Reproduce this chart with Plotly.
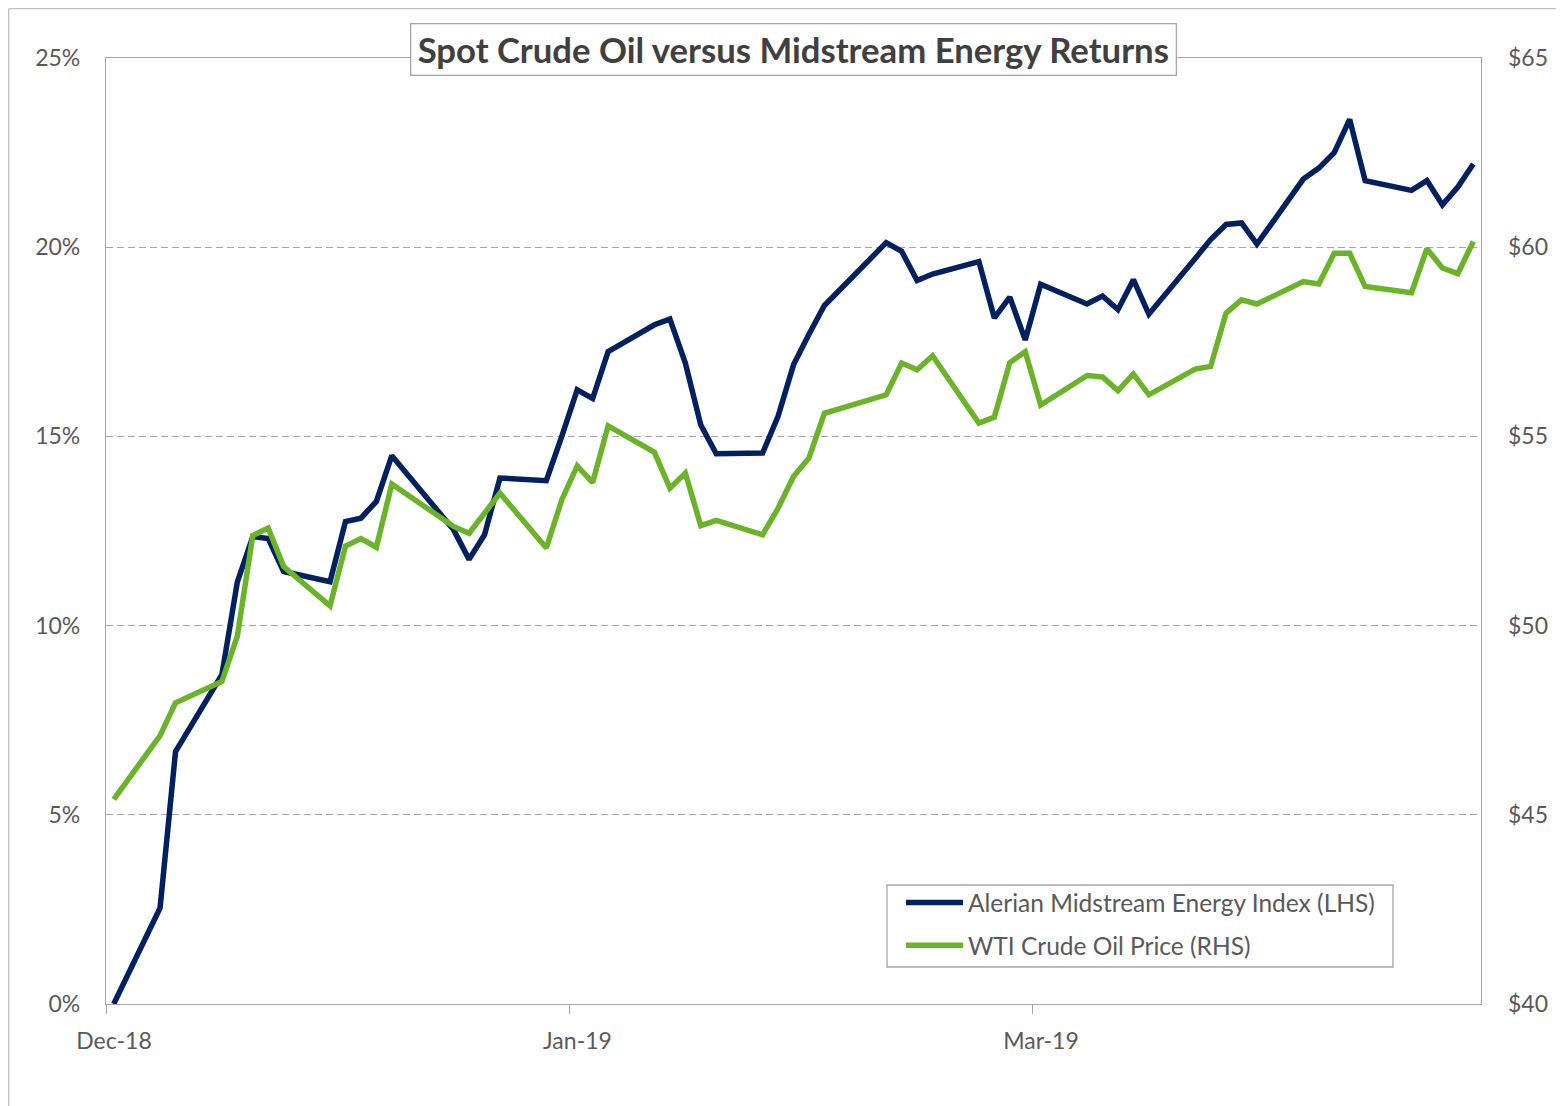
import plotly.graph_objects as go
from plotly.subplots import make_subplots

# ---------------- data ----------------
dates = [
    "2018-12-31", "2019-01-02", "2019-01-03", "2019-01-04", "2019-01-07", "2019-01-08",
    "2019-01-09", "2019-01-10", "2019-01-11", "2019-01-14", "2019-01-15", "2019-01-16",
    "2019-01-17", "2019-01-18", "2019-01-22", "2019-01-23", "2019-01-24", "2019-01-25",
    "2019-01-28", "2019-01-29", "2019-01-30", "2019-01-31", "2019-02-01", "2019-02-04",
    "2019-02-05", "2019-02-06", "2019-02-07", "2019-02-08", "2019-02-11", "2019-02-12",
    "2019-02-13", "2019-02-14", "2019-02-15", "2019-02-19", "2019-02-20", "2019-02-21",
    "2019-02-22", "2019-02-25", "2019-02-26", "2019-02-27", "2019-02-28", "2019-03-01",
    "2019-03-04", "2019-03-05", "2019-03-06", "2019-03-07", "2019-03-08", "2019-03-11",
    "2019-03-12", "2019-03-13", "2019-03-14", "2019-03-15", "2019-03-18", "2019-03-19",
    "2019-03-20", "2019-03-21", "2019-03-22", "2019-03-25", "2019-03-26", "2019-03-27",
    "2019-03-28", "2019-03-29",
]

# Alerian Midstream Energy Index, cumulative return (%)
amz_return_pct = [
    0.0, 1.7, 2.54, 6.67, 8.7, 11.15,
    12.35, 12.3, 11.43, 11.16, 12.75, 12.84,
    13.28, 14.49, 12.53, 11.75, 12.4, 13.9,
    13.83, 15.0, 16.23, 16.0, 17.24, 17.95,
    18.1, 16.94, 15.3, 14.54, 14.56, 15.53,
    16.89, 17.7, 18.46, 20.12, 19.89, 19.12,
    19.29, 19.62, 18.13, 18.68, 17.55, 19.02,
    18.5, 18.71, 18.35, 19.14, 18.23, 19.7,
    20.2, 20.6, 20.64, 20.08, 21.8, 22.09,
    22.5, 23.38, 21.76, 21.5, 21.76, 21.12,
    21.59, 22.2,
]

# WTI crude oil spot price ($/bbl)
wti_price = [
    45.41, 46.52, 47.09, 47.96, 48.52, 49.72,
    52.38, 52.58, 51.56, 50.52, 52.10, 52.30,
    52.07, 53.74, 52.62, 52.44, 52.98, 53.50,
    52.05, 53.32, 54.22, 53.78, 55.28, 54.58,
    53.63, 54.03, 52.64, 52.78, 52.40, 53.10,
    53.94, 54.43, 55.61, 56.10, 56.94, 56.76,
    57.13, 55.35, 55.51, 56.95, 57.24, 55.83,
    56.61, 56.57, 56.21, 56.65, 56.10, 56.78,
    56.85, 58.26, 58.61, 58.50, 59.09, 59.03,
    59.84, 59.84, 58.96, 58.80, 59.96, 59.45,
    59.30, 60.15,
]

x_tick_positions = ["2018-12-30 12:00", "2019-01-29 12:00", "2019-02-28 12:00"]
x_tick_labels = ["Dec-18", "Jan-19", "Mar-19"]
left_ticks = [0, 0.05, 0.10, 0.15, 0.20, 0.25]
right_ticks = [40, 45, 50, 55, 60, 65]
right_tick_labels = ["$" + str(v) for v in right_ticks]

title_text = "Spot Crude Oil versus Midstream Energy Returns"
name_amz = "Alerian Midstream Energy Index (LHS)"
name_wti = "WTI Crude Oil Price (RHS)"

# ---------------- style ----------------
NAVY = "#002060"
GREEN = "#6bb42a"
GRID = "#a6a6a6"
BORDER = "#a6a6a6"
TXT = "#595959"
FONT = "Lato, 'Open Sans', sans-serif"

OFF = 8                      # page body margin
W, H = 1556, 1098
ML, MR, MT, MB = 98, 83, 50, 102
PW, PH = W - ML - MR, H - MT - MB


def px_x(sx):
    """screen x pixel -> paper x"""
    return (sx - OFF - ML) / PW


def px_y(sy):
    """screen y pixel -> paper y"""
    return (H - MB - (sy - OFF)) / PH


fig = make_subplots(specs=[[{"secondary_y": True}]])
fig.add_trace(
    go.Scatter(x=dates, y=[v / 100 for v in amz_return_pct], name=name_amz, mode="lines",
               legendgroup="a", line=dict(color=NAVY, width=5.5)),
    secondary_y=False,
)
fig.add_trace(
    go.Scatter(x=dates, y=wti_price, name=name_wti, mode="lines",
               legendgroup="b", line=dict(color=GREEN, width=5.5)),
    secondary_y=True,
)

fig.update_layout(
    width=W, height=H,
    margin=dict(l=ML, r=MR, t=MT, b=MB, autoexpand=False),
    paper_bgcolor="white", plot_bgcolor="white",
    font=dict(family=FONT, color=TXT, size=22),
    showlegend=True,
    legend=dict(
        x=px_x(901), y=px_y(880), xanchor="left", yanchor="top",
        bgcolor="rgba(0,0,0,0)", borderwidth=0,
        font=dict(family=FONT, size=24.5, color=TXT),
        traceorder="grouped", tracegroupgap=8, itemwidth=57,
    ),
)

fig.update_xaxes(
    type="date", domain=[0, 1],
    range=["2018-12-30 12:00", "2019-03-29 12:00"],
    tickmode="array", tickvals=x_tick_positions, ticktext=x_tick_labels,
    ticklabelshift=8,
    ticks="outside", ticklen=9, tickcolor=BORDER, tickwidth=1,
    showline=True, linecolor=BORDER, linewidth=1.3, mirror=True,
    showgrid=False, zeroline=False,
    tickfont=dict(family=FONT, size=23, color=TXT),
    ticklabelstandoff=7,
)
fig.update_yaxes(
    range=[0, 0.25], tickmode="array", tickvals=left_ticks, tickformat=".0%",
    showgrid=True, gridcolor=GRID, griddash="7px,4px", gridwidth=1.2,
    showline=True, linecolor=BORDER, linewidth=1.3, mirror=True,
    ticks="", zeroline=False,
    tickfont=dict(family=FONT, size=23, color=TXT),
    ticklabelstandoff=20,
    secondary_y=False,
)
fig.update_yaxes(
    range=[40, 65], tickmode="array", tickvals=right_ticks, ticktext=right_tick_labels,
    showgrid=False, showline=False, ticks="", zeroline=False,
    tickfont=dict(family=FONT, size=23, color=TXT),
    ticklabelstandoff=26,
    secondary_y=True,
)

shapes = [
    # outer chart frame (top and left edges)
    dict(type="line", xref="paper", yref="paper", x0=px_x(8.7), x1=px_x(1600),
         y0=px_y(8.7), y1=px_y(8.7), line=dict(color="#bfbfbf", width=1.3)),
    dict(type="line", xref="paper", yref="paper", x0=px_x(8.7), x1=px_x(8.7),
         y0=px_y(8.7), y1=px_y(1120), line=dict(color="#bfbfbf", width=1.3)),
    # legend frame
    dict(type="rect", xref="paper", yref="paper", x0=px_x(887), x1=px_x(1393),
         y0=px_y(967), y1=px_y(885), line=dict(color=BORDER, width=1.3),
         fillcolor="rgba(255,255,255,0)", layer="above"),
]
fig.update_layout(shapes=shapes)

fig.add_annotation(
    text="<b>" + title_text + "</b>",
    xref="paper", yref="paper", x=0.5, y=px_y(50),
    xanchor="center", yanchor="middle", showarrow=False,
    bordercolor=BORDER, borderwidth=1.3, borderpad=0, bgcolor="white",
    width=764, height=50,
    font=dict(family=FONT, size=34.7, color="#404040"),
)

fig.write_html("out.html")
